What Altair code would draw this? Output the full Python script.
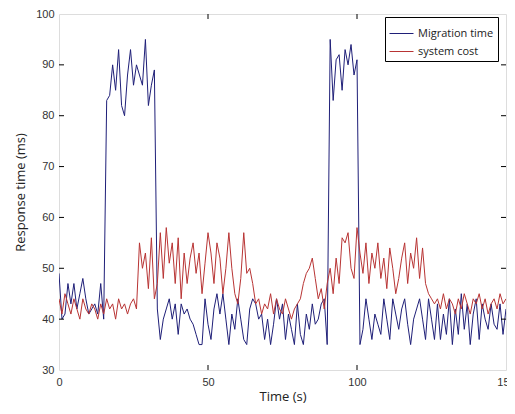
import altair as alt
import pandas as pd

t = list(range(151))

migration = [
    49, 40, 41, 47, 43, 47, 42, 45, 48, 44,
    41, 42, 43, 41, 47, 40, 83, 84, 90, 85,
    93, 82, 80, 88, 93, 86, 90, 88, 86, 95,
    82, 86, 89, 42, 36, 40, 42, 44, 40, 43,
    37, 43, 41, 42, 40, 39, 37, 35, 35, 44,
    39, 36, 42, 45, 41, 45, 40, 35, 41, 38,
    44, 40, 36, 35, 42, 44, 43, 40, 41, 36,
    40, 35, 39, 44, 40, 43, 36, 41, 38, 35,
    43, 37, 35, 41, 38, 43, 39, 40, 43, 44,
    35, 95, 83, 91, 92, 85, 93, 90, 94, 88,
    91, 35, 38, 44, 40, 36, 41, 39, 37, 44,
    40, 36, 44, 41, 38, 42, 44, 39, 35, 40,
    42, 44, 40, 36, 44, 40, 36, 43, 36, 41,
    37, 44, 35, 42, 37, 45, 38, 43, 35, 41,
    44, 36, 43, 40, 38, 43, 39, 38, 43, 37,
    42,
]

cost = [
    44, 41, 45, 43, 41, 44, 42, 40, 44, 42,
    41, 43, 42, 40, 43, 41, 44, 42, 43, 40,
    44, 42, 43, 41, 43, 44, 42, 55, 50, 53,
    46, 56, 44, 47, 57, 48, 58, 51, 55, 47,
    56, 44, 53, 47, 52, 55, 49, 53, 45, 51,
    57, 53, 47, 55, 52, 45, 50, 57, 50, 45,
    43, 48, 57, 49, 50, 47, 43, 44, 41, 43,
    42, 45, 41, 44, 42, 41, 44, 42, 40, 42,
    43, 44, 47, 49, 50, 52, 48, 44, 46, 42,
    47, 50, 45, 52, 47, 56, 55, 57, 50, 48,
    58, 53, 49, 55, 47, 53, 50, 55, 48, 52,
    46, 54, 50, 45, 48, 52, 55, 47, 53, 50,
    56, 48, 54, 47, 45, 44, 43, 44, 42, 45,
    42, 44, 43, 41, 44, 42, 45, 43, 41, 44,
    43, 45, 42, 44, 41, 43, 44, 42, 45, 43,
    44,
]

series_names = ["Migration time", "system cost"]
series_colors = ["#1f1f78", "#b83434"]
x_ticks = [0, 50, 100, 150]
y_ticks = [30, 40, 50, 60, 70, 80, 90, 100]
x_inner = [50, 100]
y_inner = [40, 50, 60, 70, 80, 90]

df = pd.DataFrame(
    {"t": t * 2,
     "v": migration + cost,
     "series": [series_names[0]] * len(t) + [series_names[1]] * len(t)}
)

W, H = 447, 356

xscale = alt.Scale(domain=[0, 150], nice=False, zero=False)
yscale = alt.Scale(domain=[30, 100], nice=False, zero=False)

xaxis = alt.Axis(values=x_ticks, title="Time (s)", grid=False,
                 domain=False, ticks=False, labelPadding=6,
                 labelFontSize=11, labelFont="Liberation Sans",
                 labelColor="#333333", titleFont="Open Sans",
                 titleFontSize=13, titleFontWeight="normal",
                 titleColor="#222222", titlePadding=3,
                 labelFlush=False)
yaxis = alt.Axis(values=y_ticks, title="Response time (ms)", grid=False,
                 domain=False, ticks=False, labelPadding=5,
                 labelFontSize=11, labelFont="Liberation Sans",
                 labelColor="#333333", titleFont="Open Sans",
                 titleFontSize=13, titleFontWeight="normal",
                 titleColor="#222222", titlePadding=8)

lines = alt.Chart(df).mark_line(strokeWidth=1, clip=True).encode(
    x=alt.X("t:Q", scale=xscale, axis=xaxis),
    y=alt.Y("v:Q", scale=yscale, axis=yaxis),
    color=alt.Color("series:N",
                    scale=alt.Scale(domain=series_names, range=series_colors),
                    legend=alt.Legend(title=None, orient="none",
                                      legendX=326, legendY=3,
                                      fillColor="white", strokeColor="black",
                                      padding=4, symbolType="stroke",
                                      symbolSize=576, symbolStrokeWidth=1,
                                      labelFontSize=11, labelFont="Open Sans",
                                      labelColor="#222222", labelOffset=4,
                                      rowPadding=0, cornerRadius=0)),
)

ydf = pd.DataFrame({"v": y_inner})
xdf = pd.DataFrame({"t": x_inner})

ytick_l = alt.Chart(ydf).mark_rule(color="black", strokeWidth=1).encode(
    y=alt.Y("v:Q", scale=yscale, axis=yaxis), x=alt.value(0), x2=alt.value(5))
ytick_r = alt.Chart(ydf).mark_rule(color="black", strokeWidth=1).encode(
    y=alt.Y("v:Q", scale=yscale, axis=yaxis), x=alt.value(W), x2=alt.value(W - 5))
xtick_b = alt.Chart(xdf).mark_rule(color="black", strokeWidth=1).encode(
    x=alt.X("t:Q", scale=xscale, axis=xaxis), y=alt.value(H), y2=alt.value(H - 5))
xtick_t = alt.Chart(xdf).mark_rule(color="black", strokeWidth=1).encode(
    x=alt.X("t:Q", scale=xscale, axis=xaxis), y=alt.value(0), y2=alt.value(5))

chart = alt.layer(lines, ytick_l, ytick_r, xtick_b, xtick_t).properties(
    width=W, height=H,
    autosize=alt.AutoSizeParams(type="none"),
    padding={"left": 51, "top": 6, "right": 1, "bottom": 36},
).configure_view(stroke="black", strokeWidth=1).configure(background="white")

chart.save("out.html", embed_options={"renderer": "svg", "actions": False})
